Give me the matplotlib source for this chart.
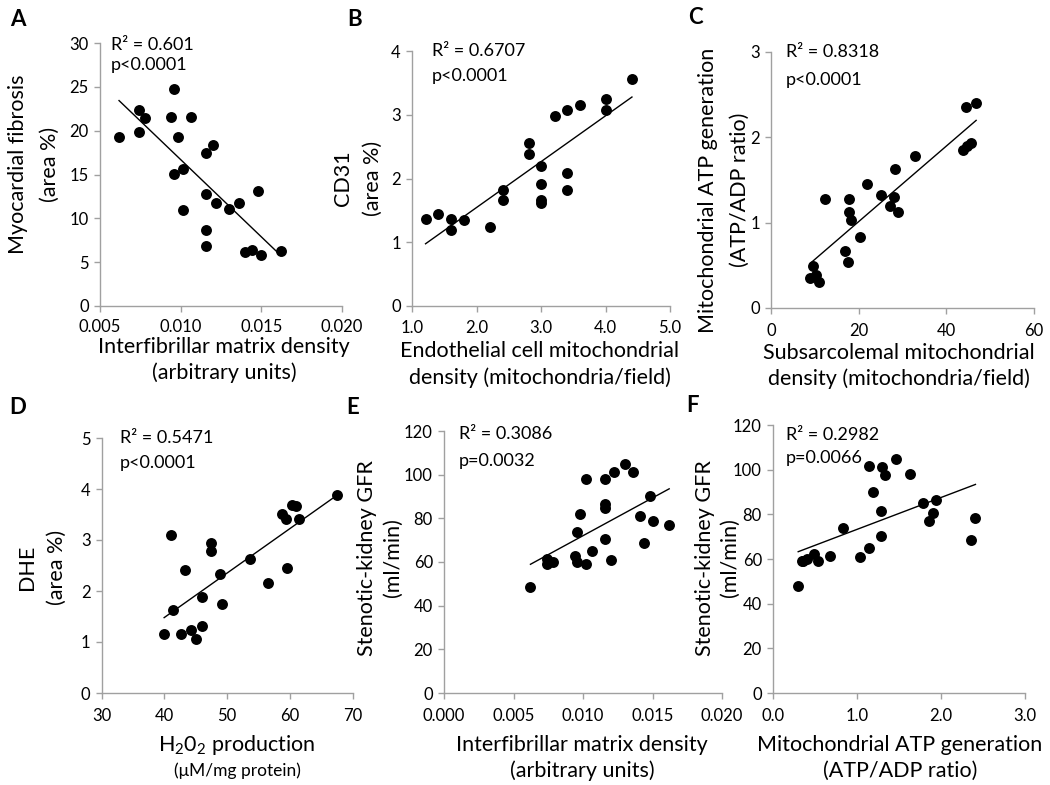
import numpy as np
import matplotlib
matplotlib.use("Agg")
import matplotlib.pyplot as plt
from matplotlib.ticker import FormatStrFormatter

plt.rcParams['font.family'] = ['Lato', 'DejaVu Sans']
plt.rcParams['mathtext.default'] = 'regular'

# ---------------- data ----------------
# A: interfibrillar matrix density vs myocardial fibrosis
a_x = [0.00618, 0.00742, 0.00742, 0.00779, 0.00957, 0.00939, 0.01063, 0.00982,
       0.00957, 0.01017, 0.01017, 0.0116, 0.0120, 0.0116, 0.0122, 0.0130,
       0.0136, 0.0148, 0.0116, 0.0116, 0.0140, 0.0144, 0.0150, 0.0162]
a_y = [19.3, 22.4, 19.8, 21.5, 24.7, 21.6, 21.6, 19.3,
       15.1, 15.6, 11.0, 17.4, 18.4, 12.8, 11.8, 11.1,
       11.7, 13.1, 8.7, 6.8, 6.2, 6.4, 5.8, 6.3]

# B: endothelial cell mitochondrial density vs CD31
b_x = [1.21, 1.41, 1.61, 1.61, 1.81, 2.21, 2.41, 2.41, 2.81, 2.81, 3.0,
       3.0, 3.0, 3.0, 3.21, 3.41, 3.41, 3.41, 3.60, 4.01, 4.01, 4.41]
b_y = [1.37, 1.44, 1.36, 1.19, 1.35, 1.24, 1.82, 1.67, 2.56, 2.39, 2.20,
       1.92, 1.66, 1.61, 2.98, 3.07, 2.09, 1.82, 3.15, 3.24, 3.07, 3.56]

# C: subsarcolemal mitochondrial density vs ATP/ADP ratio
c_x = [8.96, 9.57, 10.3, 10.9, 12.4, 16.9, 17.5, 17.8, 17.8, 18.2, 20.4, 22.0,
       25.1, 27.2, 28.0, 28.2, 29.0, 32.8, 43.9, 44.8, 45.6, 44.6, 46.8]
c_y = [0.35, 0.49, 0.39, 0.30, 1.28, 0.67, 0.54, 1.28, 1.13, 1.03, 0.83, 1.45,
       1.33, 1.20, 1.30, 1.63, 1.13, 1.78, 1.85, 1.90, 1.93, 2.35, 2.40]

# D: H2O2 production vs DHE
d_x = [39.95, 41.0, 41.3, 42.7, 43.3, 44.3, 45.05, 46.0, 46.0, 47.4, 47.4,
       48.8, 49.2, 53.6, 56.5, 58.7, 59.4, 59.5, 60.3, 60.9, 61.5, 67.5]
d_y = [1.15, 3.09, 1.63, 1.15, 2.41, 1.23, 1.05, 1.31, 1.89, 2.94, 2.79,
       2.33, 1.74, 2.62, 2.16, 3.51, 3.42, 2.46, 3.69, 3.67, 3.41, 3.89]

# E: interfibrillar matrix density vs stenotic-kidney GFR
e_x = [0.00622, 0.0074, 0.0074, 0.00783, 0.0094, 0.0096, 0.0096, 0.0098,
       0.0102, 0.0102, 0.01065, 0.0116, 0.0116, 0.0116, 0.0116, 0.0120,
       0.0122, 0.0130, 0.0136, 0.0141, 0.0144, 0.0148, 0.0150, 0.0162]
e_y = [48.4, 61.5, 58.9, 60.0, 62.7, 60.0, 73.9, 81.8,
       98.2, 59.1, 64.9, 70.4, 86.4, 84.9, 97.9, 61.1,
       101.4, 104.7, 101.4, 80.9, 68.7, 90.1, 78.6, 77.1]

# F: ATP/ADP ratio vs stenotic-kidney GFR
f_x = [0.30, 0.35, 0.36, 0.40, 0.49, 0.54, 0.68, 0.83, 1.04, 1.14, 1.14, 1.19,
       1.28, 1.28, 1.30, 1.33, 1.46, 1.63, 1.79, 1.86, 1.91, 1.94, 2.36, 2.41]
f_y = [48.1, 58.9, 59.3, 59.9, 62.1, 58.9, 61.4, 73.8, 61.1, 101.6, 64.8, 89.9,
       81.5, 70.3, 101.3, 97.8, 104.6, 98.1, 85.2, 77.0, 80.8, 86.4, 68.6, 78.4]

stats = {
    'A': ("R² = 0.601", "p<0.0001"),
    'B': ("R² = 0.6707", "p<0.0001"),
    'C': ("R² = 0.8318", "p<0.0001"),
    'D': ("R² = 0.5471", "p<0.0001"),
    'E': ("R² = 0.3086", "p=0.0032"),
    'F': ("R² = 0.2982", "p=0.0066"),
}

W, H = 1050, 785
fig = plt.figure(figsize=(W / 100, H / 100), dpi=100)

def px_axes(x0, x1, ytop, ybot):
    return fig.add_axes([x0 / W, 1 - ybot / H, (x1 - x0) / W, (ybot - ytop) / H])

spine_col = '#a0a0a0'
TICK_FS = 12
LAB_FS = 15.5
STAT_FS = 13

panels = [
    # key, x, y, axes px, xlim, xticks, xfmt, ylim, yticks, stat pos, x tick pad
    ('A', a_x, a_y, (100, 342, 43, 306), (0.005, 0.020), [0.005, 0.010, 0.015, 0.020], '%.3f',
     (0, 30), [0, 5, 10, 15, 20, 25, 30], (0.045, 0.992, 0.916), 5),
    ('B', b_x, b_y, (412, 670, 51, 306), (1.0, 5.0), [1.0, 2.0, 3.0, 4.0, 5.0], '%.1f',
     (0, 4), [0, 1, 2, 3, 4], (0.078, 1.0, 0.903), 6),
    ('C', c_x, c_y, (771, 1034, 52, 308), (0, 60), [0, 20, 40, 60], '%d',
     (0, 3), [0, 1, 2, 3], (0.057, 1.0, 0.89), 7),
    ('D', d_x, d_y, (101.7, 352.7, 438, 693), (30, 70), [30, 40, 50, 60, 70], '%d',
     (0, 5), [0, 1, 2, 3, 4, 5], (0.073, 1.0, 0.902), 7),
    ('E', e_x, e_y, (444, 722, 431, 693), (0.0, 0.020), [0.000, 0.005, 0.010, 0.015, 0.020], '%.3f',
     (0, 120), [0, 20, 40, 60, 80, 100, 120], (0.054, 0.99, 0.885), 7),
    ('F', f_x, f_y, (773, 1025, 425, 693), (0.0, 3.0), [0.0, 1.0, 2.0, 3.0], '%.1f',
     (0, 120), [0, 20, 40, 60, 80, 100, 120], (0.052, 0.963, 0.877), 7),
]

for key, xs, ys, box, xlim, xt, xfmt, ylim, yt, sp, xpad in panels:
    ax = px_axes(*box)
    xs = np.asarray(xs); ys = np.asarray(ys)
    ax.scatter(xs, ys, s=62, color='black', zorder=3, linewidths=0)
    m, c = np.polyfit(xs, ys, 1)
    xx = np.array([xs.min(), xs.max()])
    ax.plot(xx, m * xx + c, color='black', lw=1.0, zorder=2)
    ax.set_xlim(*xlim); ax.set_ylim(*ylim)
    ax.set_xticks(xt); ax.set_yticks(yt)
    ax.xaxis.set_major_formatter(FormatStrFormatter(xfmt))
    for s in ('top', 'right'):
        ax.spines[s].set_visible(False)
    for s in ('left', 'bottom'):
        ax.spines[s].set_color(spine_col)
        ax.spines[s].set_linewidth(1.0)
    ax.tick_params(direction='out', length=4, width=1.0, color=spine_col,
                   labelsize=TICK_FS, labelcolor='black')
    ax.tick_params(axis='x', pad=xpad)
    ax.tick_params(axis='y', pad=4)
    ax.patch.set_alpha(0)
    fx, fy1, fy2 = sp
    ax.text(fx, fy1, stats[key][0], transform=ax.transAxes, fontsize=STAT_FS, va='center', ha='left')
    ax.text(fx, fy2, stats[key][1], transform=ax.transAxes, fontsize=STAT_FS, va='center', ha='left')

def ftext(x, y, s, **kw):
    fig.text(x / W, 1 - y / H, s, **kw)

# panel letters
for lab, (x, y) in {'A': (18, 20), 'B': (355, 20), 'C': (695, 18),
                    'D': (18, 408), 'E': (353, 407), 'F': (693, 405)}.items():
    ftext(x, y, lab, fontsize=16, fontweight='bold', ha='center', va='center')

# y labels (two lines each)
ylabs = [
    (18, 50, 164, "Myocardial fibrosis", "(area %)"),
    (343, 373, 178, "CD31", "(area %)"),
    (708, 740, 190, "Mitochondrial ATP generation", "(ATP/ADP ratio)"),
    (27, 57, 567, "DHE", "(area %)"),
    (367, 393, 558, "Stenotic-kidney GFR", "(ml/min)"),
    (705, 730, 558, "Stenotic-kidney GFR", "(ml/min)"),
]
for x1, x2, yc, l1, l2 in ylabs:
    ftext(x1, yc, l1, fontsize=LAB_FS, rotation=90, ha='center', va='center')
    ftext(x2, yc, l2, fontsize=LAB_FS, rotation=90, ha='center', va='center')

# x labels
xlabs = [
    (224, 347, 373, "Interfibrillar matrix density", "(arbitrary units)", LAB_FS),
    (540, 351, 378, "Endothelial cell mitochondrial", "density (mitochondria/field)", LAB_FS),
    (899, 353, 379, "Subsarcolemal mitochondrial", "density (mitochondria/field)", LAB_FS),
    (237, 745, 771, r"H$_2$0$_2$ production", "(μM/mg protein)", 12.5),
    (582, 745, 771, "Interfibrillar matrix density", "(arbitrary units)", LAB_FS),
    (900, 745, 771, "Mitochondrial ATP generation", "(ATP/ADP ratio)", LAB_FS),
]
for xc, y1, y2, l1, l2, fs2 in xlabs:
    ftext(xc, y1, l1, fontsize=LAB_FS, ha='center', va='center')
    ftext(xc, y2, l2, fontsize=fs2, ha='center', va='center')

fig.savefig('out.png', dpi=100, facecolor='white')
